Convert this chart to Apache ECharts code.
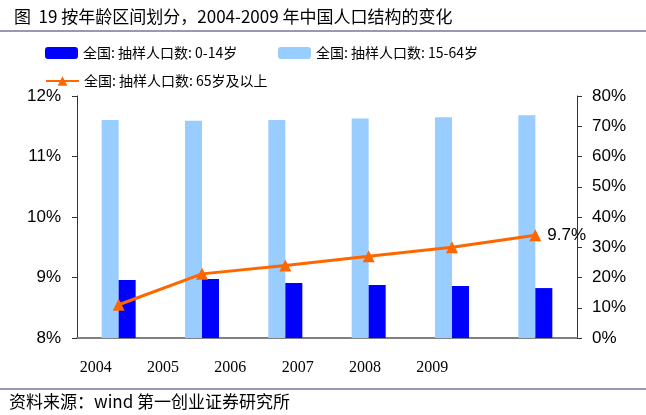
<!DOCTYPE html>
<html><head><meta charset="utf-8">
<script src="https://cdn.jsdelivr.net/npm/echarts@6/dist/echarts.min.js"></script>
<style>html,body{margin:0;padding:0;background:#fff}#c{width:646px;height:415px}</style>
</head><body><div id="c"></div>
<script>
const years = ['2004','2005','2006','2007','2008','2009'];
const age0_14 = [19.2, 19.5, 18.2, 17.5, 17.2, 16.5];
const age15_64 = [72.1, 71.8, 72.1, 72.6, 73.0, 73.6];
const age65 = [8.55, 9.06, 9.2, 9.35, 9.5, 9.7];
const leftTicks = {min: 8, max: 12, interval: 1};
const rightTicks = {min: 0, max: 80, interval: 10};
const names = ['全国: 抽样人口数: 0-14岁', '全国: 抽样人口数: 15-64岁', '全国: 抽样人口数: 65岁及以上'];

const chart = echarts.init(document.getElementById('c'), null, {renderer: 'canvas'});
const legendText = {fontFamily: 'Noto Sans CJK SC', fontSize: 14, color: '#000'};
chart.setOption({
  animation: false,
  title: {text: '图  19 按年龄区间划分，2004-2009 年中国人口结构的变化', left: 9, top: 3,
    textStyle: {fontFamily: 'Noto Sans CJK SC', fontSize: 17, fontWeight: 'normal', color: '#000'}},
  graphic: [
    {type: 'line', shape: {x1: 0, y1: 31, x2: 646, y2: 31}, style: {stroke: '#333366', lineWidth: 1}},
    {type: 'line', shape: {x1: 0, y1: 389, x2: 646, y2: 389}, style: {stroke: '#333366', lineWidth: 1}},
    {type: 'text', left: 9, top: 393, style: {text: '资料来源：wind 第一创业证券研究所', font: '17px "Noto Sans CJK SC"', fill: '#000'}}
  ],
  legend: [
    {data: [names[0]], left: 45, top: 46, itemWidth: 33, itemHeight: 12, itemGap: 4, textStyle: legendText, padding: 0},
    {data: [names[1]], left: 278, top: 46, itemWidth: 33, itemHeight: 12, textStyle: legendText, padding: 0},
    {data: [names[2]], left: 45, top: 74, itemWidth: 33, itemHeight: 12, textStyle: legendText, padding: 0}
  ],
  grid: [
    {left: 77, right: 69, top: 96, bottom: 77},
    {left: 62, right: 180, top: 96, bottom: 77}
  ],
  xAxis: [
    {type: 'category', data: years, gridIndex: 0,
      axisLine: {lineStyle: {color: '#808080', width: 2}},
      axisTick: {inside: true, length: 5, lineStyle: {color: '#000'}},
      axisLabel: {show: false}},
    {type: 'category', data: years, gridIndex: 1,
      axisLine: {show: false}, axisTick: {show: false},
      axisLabel: {margin: 22, fontFamily: 'Liberation Serif', fontSize: 16, color: '#000'}}
  ],
  yAxis: [
    {type: 'value', gridIndex: 0, position: 'left', min: leftTicks.min, max: leftTicks.max, interval: leftTicks.interval,
      splitLine: {show: false}, axisLine: {show: true, lineStyle: {color: '#333'}},
      axisTick: {show: true, length: 5, lineStyle: {color: '#333'}},
      axisLabel: {formatter: v => v + '%', fontFamily: 'Liberation Sans', fontSize: 17, color: '#000', margin: 16}},
    {type: 'value', gridIndex: 0, position: 'right', min: rightTicks.min, max: rightTicks.max, interval: rightTicks.interval,
      splitLine: {show: false}, axisLine: {show: true, lineStyle: {color: '#333'}},
      axisTick: {show: true, length: 5, lineStyle: {color: '#333'}},
      axisLabel: {formatter: v => v + '%', fontFamily: 'Liberation Sans', fontSize: 17, color: '#000', margin: 15}},
    {type: 'value', gridIndex: 1, show: false}
  ],
  series: [
    {name: names[1], type: 'bar', yAxisIndex: 1, data: age15_64, barWidth: 17, barGap: '0%',
      itemStyle: {color: '#99CCFF'}},
    {name: names[0], type: 'bar', yAxisIndex: 1, data: age0_14, barWidth: 17, barGap: '0%',
      itemStyle: {color: '#0000FF'}},
    {name: names[2], type: 'line', yAxisIndex: 0, data: age65.map((v, i) => i === age65.length - 1 ? {value: v, label: {show: true}} : v),
      symbol: 'triangle', symbolSize: 12,
      lineStyle: {color: '#FF6600', width: 3}, itemStyle: {color: '#FF6600'},
      label: {show: false, position: 'right', distance: 6, formatter: p => p.value + '%', fontFamily: 'Liberation Sans', fontSize: 17, color: '#000'}}
  ]
});
</script></body></html>
